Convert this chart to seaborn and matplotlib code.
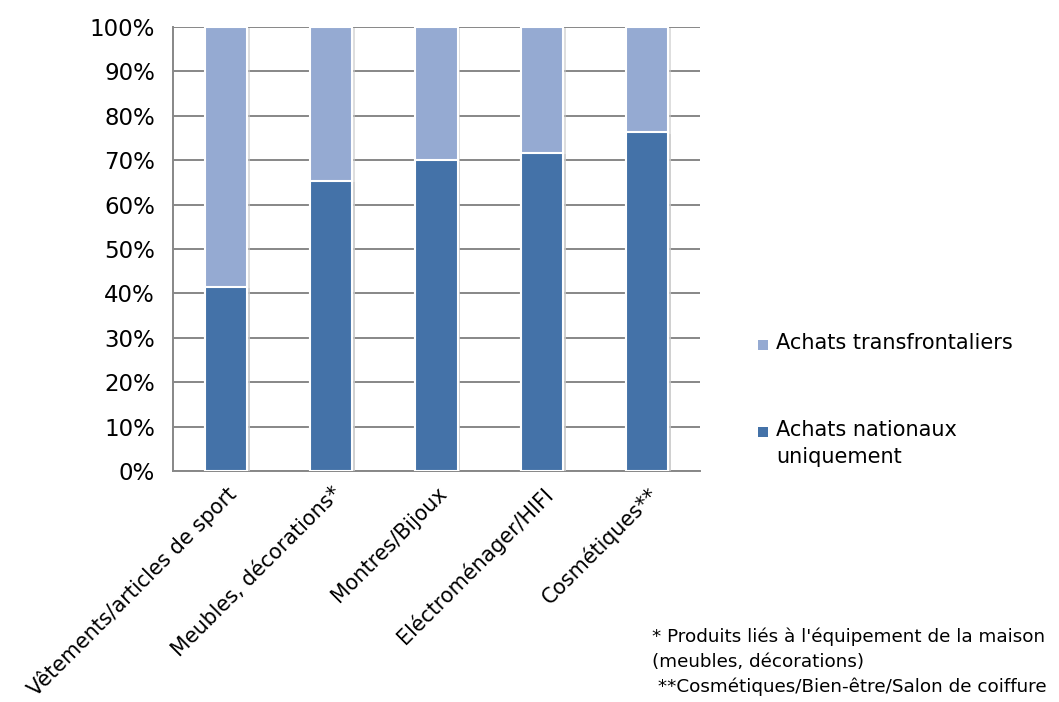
import matplotlib
matplotlib.use("Agg")
import matplotlib.pyplot as plt
import matplotlib.patches as mpatches
import matplotlib.patheffects as pe
import seaborn as sns
import pandas as pd
import numpy as np

categories = [
    "Vêtements/articles de sport",
    "Meubles, décorations*",
    "Montres/Bijoux",
    "Eléctroménager/HIFI",
    "Cosmétiques**",
]
nationaux = [41.5, 65.3, 70.0, 71.6, 76.3]
transfrontaliers = [100 - v for v in nationaux]
yticks = [0, 10, 20, 30, 40, 50, 60, 70, 80, 90, 100]
series_labels = ["Achats transfrontaliers", "Achats nationaux\nuniquement"]
footnote = ("* Produits liés à l'équipement de la maison\n"
            "(meubles, décorations)\n"
            " **Cosmétiques/Bien-être/Salon de coiffure")

DARK = "#4472A8"
LIGHT = "#95AAD2"
GREY = "#878787"

sns.set_style("white")
plt.rcParams["font.family"] = ["DejaVu Sans"]
plt.rcParams["text.color"] = "black"
plt.rcParams["xtick.labelcolor"] = "black"
plt.rcParams["ytick.labelcolor"] = "black"

df = pd.DataFrame({
    "cat": categories,
    "nat": nationaux,
    "total": [a + b for a, b in zip(nationaux, transfrontaliers)],
})

W, H = 1059, 702
fig = plt.figure(figsize=(W / 100, H / 100), dpi=100)
ax = fig.add_axes([173 / W, 1 - 471 / H, (700 - 173) / W, (471 - 27) / H])

shadow = [pe.SimplePatchShadow(offset=(2, -1), shadow_rgbFace="#c8c8c8", alpha=0.6), pe.Normal()]
sns.barplot(data=df, x="cat", y="total", color=LIGHT, saturation=1, width=0.4,
            edgecolor="white", linewidth=1.5, ax=ax, zorder=3)
sns.barplot(data=df, x="cat", y="nat", color=DARK, saturation=1, width=0.4,
            edgecolor="white", linewidth=1.5, ax=ax, zorder=4)
for p in ax.patches:
    p.set_path_effects(shadow)

ax.set_xlim(-0.5, len(categories) - 0.5)
ax.set_ylim(0, 100)
ax.set_yticks(yticks)
ax.set_yticklabels([f"{v}%" for v in yticks], fontsize=16.5)
ax.yaxis.grid(True, color=GREY, linewidth=1.4, zorder=0)
ax.set_axisbelow(True)

ax.set_xticks(range(len(categories)))
ax.set_xticklabels(categories, rotation=45, ha="right", rotation_mode="anchor", fontsize=14.9)
ax.tick_params(axis="x", which="major", length=0, pad=9)
ax.set_xticks(np.arange(-0.5, len(categories), 1.0), minor=True)
ax.tick_params(axis="x", which="minor", length=7, width=1.4, color=GREY, direction="out")
ax.tick_params(axis="y", length=7, width=1.4, color=GREY, direction="out", pad=6)
ax.set_xlabel("")
ax.set_ylabel("")

for side in ["top", "right"]:
    ax.spines[side].set_visible(False)
for side in ["left", "bottom"]:
    ax.spines[side].set_color(GREY)
    ax.spines[side].set_linewidth(1.4)

# Legend: small colour squares with labels, first line aligned with the square
legend_rows = [(LIGHT, series_labels[0], 345), (DARK, series_labels[1], 432)]
for color, label, yc in legend_rows:
    fig.patches.append(mpatches.Rectangle(((758) / W, 1 - (yc + 5) / H), 10 / W, 10 / H,
                                          transform=fig.transFigure, facecolor=color,
                                          edgecolor="none"))
    fig.text(776 / W, 1 - (yc - 12) / H, label, fontsize=15, ha="left", va="top",
             linespacing=1.42)

fig.text(652 / W, 1 - 628 / H, footnote, fontsize=13.2, va="top", ha="left",
         linespacing=1.45)

fig.savefig("out.png", dpi=100)
